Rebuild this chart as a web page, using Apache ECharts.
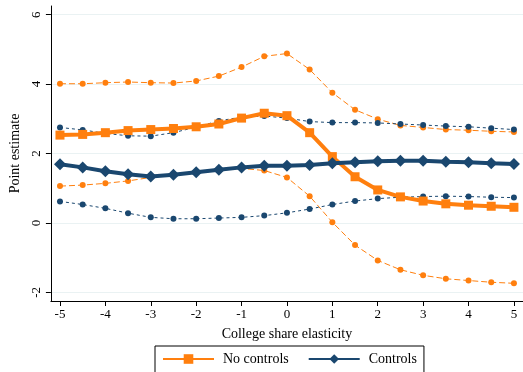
<!DOCTYPE html>
<html><head><meta charset="utf-8">
<script src="https://cdn.jsdelivr.net/npm/echarts@6/dist/echarts.min.js"></script>
<style>html,body{margin:0;padding:0;background:#fff}#c{width:523px;height:372px}</style>
</head><body><div id="c"></div>
<script>
const xs = [-5,-4.5,-4,-3.5,-3,-2.5,-2,-1.5,-1,-0.5,0,0.5,1,1.5,2,2.5,3,3.5,4,4.5,5];
const noCtrl   = [2.53,2.55,2.60,2.66,2.69,2.72,2.77,2.85,3.02,3.16,3.09,2.60,1.91,1.33,0.95,0.75,0.63,0.55,0.51,0.48,0.45];
const noCtrlHi = [4.01,4.01,4.04,4.06,4.04,4.03,4.09,4.23,4.49,4.80,4.88,4.42,3.75,3.26,2.99,2.81,2.75,2.69,2.67,2.64,2.62];
const noCtrlLo = [1.06,1.09,1.14,1.21,1.31,1.38,1.45,1.52,1.57,1.51,1.31,0.77,0.02,-0.64,-1.08,-1.35,-1.51,-1.61,-1.66,-1.71,-1.74];
const ctrl     = [1.69,1.60,1.49,1.40,1.34,1.39,1.46,1.53,1.60,1.65,1.65,1.67,1.72,1.75,1.78,1.79,1.79,1.76,1.75,1.72,1.70];
const ctrlHi   = [2.75,2.68,2.58,2.51,2.50,2.60,2.76,2.94,3.05,3.08,3.02,2.92,2.89,2.89,2.88,2.85,2.82,2.79,2.77,2.73,2.69];
const ctrlLo   = [0.62,0.53,0.42,0.28,0.16,0.12,0.12,0.14,0.16,0.21,0.29,0.40,0.53,0.63,0.70,0.74,0.76,0.77,0.76,0.74,0.73];
const xTicks = [-5,-4,-3,-2,-1,0,1,2,3,4,5];
const yTicks = [-2,0,2,4,6];

const ORANGE = '#ff7f0e', NAVY = '#1a476f';
const pair = arr => xs.map((x,i)=>[x,arr[i]]);
const font = '"Liberation Serif", "DejaVu Serif", serif';

function ci(name, data, color, type) {
  return {name, type:'line', data:pair(data), symbol:'circle', symbolSize:6,
    itemStyle:{color}, lineStyle:{color, width:1, type}, z:2, silent:true};
}

const chart = echarts.init(document.getElementById('c'));
chart.setOption({
  animation:false,
  textStyle:{fontFamily:font},
  grid:{left:49, top:6, width:482, height:295, containLabel:false},
  xAxis:{type:'value', min:-5.2, max:5.2,
    name:'College share elasticity', nameLocation:'middle', nameGap:26,
    nameTextStyle:{fontFamily:font, fontSize:14, color:'#000'},
    axisLine:{onZero:false, lineStyle:{color:'#000', width:1}},
    axisTick:{customValues:xTicks, length:5, lineStyle:{color:'#000'}},
    axisLabel:{customValues:xTicks, fontFamily:font, fontSize:13, color:'#000', margin:7},
    splitLine:{show:false}},
  yAxis:{type:'value', min:-2.25, max:6.25,
    name:'Point estimate', nameLocation:'middle', nameGap:26,
    nameTextStyle:{fontFamily:font, fontSize:14, color:'#000'},
    axisLine:{show:true, onZero:false, lineStyle:{color:'#000', width:1}},
    axisTick:{show:true, customValues:yTicks, length:5, lineStyle:{color:'#000'}},
    axisLabel:{customValues:yTicks, rotate:90, fontFamily:font, fontSize:13, color:'#000', margin:8},
    splitLine:{show:true, lineStyle:{color:'#eaf2f3', width:1}}},
  legend:{data:['No controls','Controls'], left:155, top:346, width:270,
    itemWidth:51, itemHeight:12, itemGap:19,
    padding:[6,7,20,7], borderColor:'#000', borderWidth:1,
    textStyle:{fontFamily:font, fontSize:14, color:'#000', padding:[0,0,0,4]}},
  series:[
    ci('nc_hi', noCtrlHi, ORANGE, [6,3]),
    ci('nc_lo', noCtrlLo, ORANGE, [6,3]),
    ci('c_hi', ctrlHi, NAVY, [3,3]),
    ci('c_lo', ctrlLo, NAVY, [3,3]),
    {name:'No controls', type:'line', data:pair(noCtrl), symbol:'rect', symbolSize:9,
      itemStyle:{color:ORANGE}, lineStyle:{color:ORANGE, width:4}, z:4},
    {name:'Controls', type:'line', data:pair(ctrl), symbol:'diamond', symbolSize:12,
      itemStyle:{color:NAVY}, lineStyle:{color:NAVY, width:4}, z:5}
  ]
});
</script></body></html>
